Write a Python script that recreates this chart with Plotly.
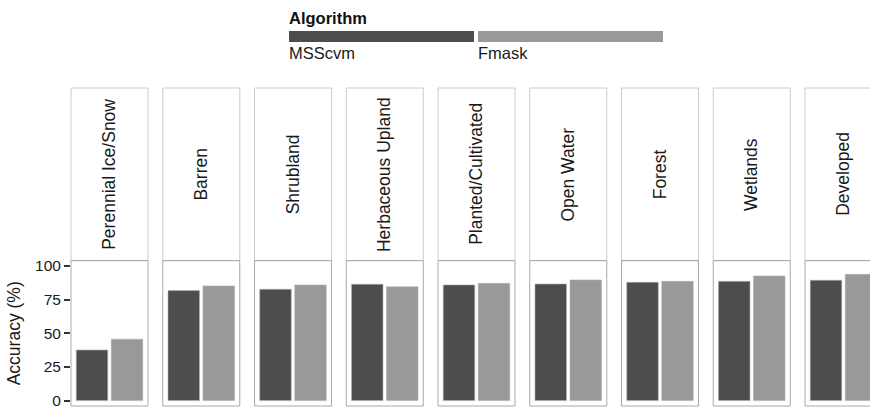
import plotly.graph_objects as go
from plotly.subplots import make_subplots

# ---- data ----
land_cover = ["Perennial Ice/Snow", "Barren", "Shrubland", "Herbaceous Upland",
              "Planted/Cultivated", "Open Water", "Forest", "Wetlands", "Developed"]
algorithms = ["MSScvm", "Fmask"]
msscvm = [37.6, 81.7, 82.7, 86.4, 85.9, 86.6, 87.9, 88.6, 89.4]
fmask = [45.6, 85.2, 85.9, 84.6, 87.1, 89.6, 88.6, 92.6, 93.8]
y_ticks = [0, 25, 50, 75, 100]

colors = {"MSScvm": "#4d4d4d", "Fmask": "#999999"}
FONT = "Liberation Sans, Arial, sans-serif"

W, H = 870, 409
n = len(land_cover)
left0, pitch, pw = 71.0, 91.75, 77.0
px_per_unit = pw / 2.2
panel_top, panel_bot = 260.6, 406.0
strip_top = 88.0

fig = make_subplots(rows=1, cols=n, shared_yaxes=True, horizontal_spacing=0.0)

for i, cat in enumerate(land_cover):
    vals = [msscvm[i], fmask[i]]
    fig.add_trace(go.Bar(
        x=algorithms, y=vals, width=0.9,
        marker=dict(color=[colors[a] for a in algorithms],
                    line=dict(width=0.6, color="#b0b0b0")),
        showlegend=False, hoverinfo="x+y"), row=1, col=i + 1)

    x0 = left0 + pitch * i
    x1 = x0 + pw
    clipped_x1 = min(x1, W)
    xr_end = -0.6 + (clipped_x1 - x0) / px_per_unit
    ax = "xaxis" if i == 0 else f"xaxis{i + 1}"
    fig.layout[ax].update(domain=[x0 / W, clipped_x1 / W], range=[-0.6, xr_end],
                          showticklabels=False, ticks="", showgrid=False,
                          zeroline=False, showline=False, fixedrange=True,
                          automargin=False)
    xref = "x domain" if i == 0 else f"x{i + 1} domain"
    yref = "y domain"
    frac = pw / (clipped_x1 - x0)
    # panel border
    fig.add_shape(type="rect", xref=xref, yref=yref, x0=0, x1=frac, y0=0, y1=1,
                  line=dict(color="#a8a8a8", width=1), fillcolor="rgba(0,0,0,0)",
                  layer="above")
    # strip
    fig.add_shape(type="rect", xref="paper", yref="paper",
                  x0=x0 / W, x1=x1 / W,
                  y0=(H - panel_top) / H, y1=(H - strip_top) / H,
                  line=dict(color="#cccccc", width=1), fillcolor="white",
                  layer="below")
    fig.add_annotation(text=cat, xref="paper", yref="paper",
                       x=(x0 + pw / 2) / W, y=(H - (strip_top + panel_top) / 2) / H,
                       textangle=-90, showarrow=False, xanchor="center", yanchor="middle",
                       font=dict(family=FONT, size=17.5, color="#1a1a1a"))

fig.update_yaxes(range=[-4, 104], domain=[(H - panel_bot) / H, (H - panel_top) / H],
                 tickvals=y_ticks, ticktext=[str(t) for t in y_ticks],
                 showgrid=False, zeroline=False, fixedrange=True, automargin=False)
fig.layout.yaxis.update(ticks="outside", ticklen=6, tickwidth=2, tickcolor="#333333",
                        ticklabeloverflow="allow",
                        tickfont=dict(family=FONT, size=15.5, color="#1a1a1a"),
                        title=dict(text="Accuracy (%)", standoff=9,
                                   font=dict(family=FONT, size=17.5, color="#1a1a1a")))

# ---- legend (manual) ----
fig.add_annotation(text="<b>Algorithm</b>", xref="paper", yref="paper",
                   x=287 / W, y=(H - 18) / H, showarrow=False, xanchor="left",
                   yanchor="middle",
                   font=dict(family=FONT, size=16.5, color="#111111"))
leg = [(algorithms[0], 289, 474), (algorithms[1], 478, 663)]
for name, a, b in leg:
    fig.add_shape(type="rect", xref="paper", yref="paper", x0=a / W, x1=b / W,
                  y0=(H - 42) / H, y1=(H - 31) / H, line=dict(width=0),
                  fillcolor=colors[name])
    fig.add_annotation(text=name, xref="paper", yref="paper", x=(a - 2) / W,
                       y=(H - 53) / H, showarrow=False, xanchor="left",
                       yanchor="middle",
                       font=dict(family=FONT, size=16.5, color="#1a1a1a"))

fig.update_layout(width=W, height=H, margin=dict(l=0, r=0, t=0, b=0),
                  plot_bgcolor="white", paper_bgcolor="white", bargap=0.1,
                  showlegend=False)

fig.write_html("out.html")
